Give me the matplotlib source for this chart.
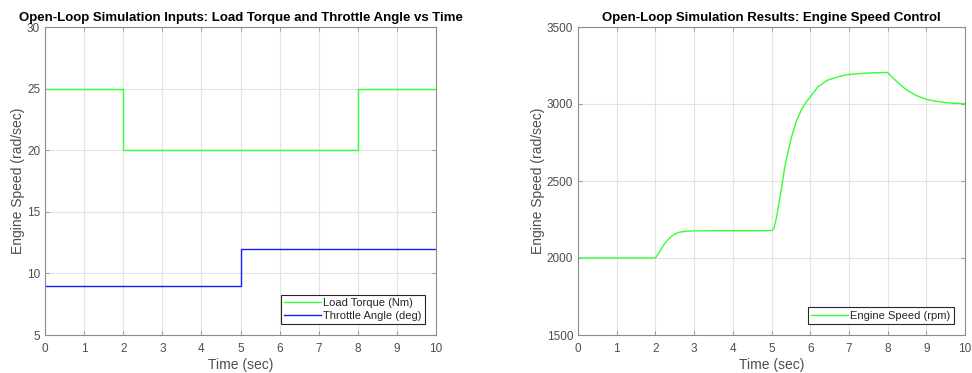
import matplotlib
matplotlib.use("Agg")
import matplotlib.pyplot as plt
import numpy as np

plt.rcParams['font.family'] = ['Liberation Sans', 'DejaVu Sans']

# Left chart data (step signals)
step_time = [0, 2, 2, 5, 5, 8, 8, 10]
load_torque = [25, 25, 20, 20, 20, 20, 25, 25]
throttle_angle = [9, 9, 9, 9, 12, 12, 12, 12]

# Right chart data (engine speed)
speed_time = [0, 0.5, 1, 1.5, 2.0, 2.1, 2.23, 2.36, 2.49, 2.62, 2.79, 3.0, 3.5, 4.0, 4.5, 5.0,
              5.06, 5.13, 5.19, 5.26, 5.34, 5.43, 5.51, 5.64, 5.77, 5.9, 6.0, 6.2, 6.45, 6.71,
              6.97, 7.22, 7.5, 7.75, 8.0, 8.1, 8.25, 8.4, 8.5, 8.75, 9.0, 9.25, 9.5, 9.75, 10.0]
engine_speed = [2000, 2000, 2000, 2000, 2000, 2036, 2090, 2129, 2155, 2167, 2174, 2176, 2177, 2177, 2177, 2178,
                2189, 2264, 2350, 2457, 2586, 2693, 2779, 2886, 2961, 3015, 3045, 3112, 3155, 3176,
                3191, 3197, 3201, 3203, 3205, 3178, 3143, 3110, 3090, 3054, 3030, 3018, 3009, 3004, 3002]

fig = plt.figure(figsize=(9.72, 3.73), dpi=100)
ax1 = fig.add_axes([45/972, 38/373, 391/972, 308/373])
ax2 = fig.add_axes([578/972, 38/373, 387/972, 308/373])

tick_col = '#4d4d4d'
spine_col = '#8c8c8c'

def style(ax):
    for s in ax.spines.values():
        s.set_color(spine_col)
        s.set_linewidth(0.8)
    ax.tick_params(direction='in', length=3, colors=spine_col, labelcolor=tick_col,
                   labelsize=8.5, top=True, right=True, width=0.6)
    ax.tick_params(axis='x', pad=6)
    ax.grid(True, color='#e3e3e3', linewidth=0.8)
    ax.set_axisbelow(True)
    ax.set_xlim(0, 10)
    ax.set_xticks(range(0, 11))
    ax.set_xlabel('Time (sec)', fontsize=10, color=tick_col, labelpad=2)
    ax.set_ylabel('Engine Speed (rad/sec)', fontsize=10, color=tick_col, labelpad=1)

def legend(ax):
    leg = ax.legend(loc='lower right', fontsize=8, fancybox=False, framealpha=1,
                    edgecolor='#262626', handlelength=3.3, borderpad=0.3, labelspacing=0.2,
                    handletextpad=0.2, borderaxespad=1.0)
    leg.get_frame().set_linewidth(0.8)
    for t in leg.get_texts():
        t.set_color('#262626')

ax1.plot(step_time, load_torque, color='#33ff33', linewidth=1.0, label='Load Torque (Nm)')
ax1.plot(step_time, throttle_angle, color='#1a1aff', linewidth=1.0, label='Throttle Angle (deg)')
style(ax1)
ax1.set_ylim(5, 30)
ax1.set_yticks(range(5, 31, 5))
ax1.set_title('Open-Loop Simulation Inputs: Load Torque and Throttle Angle vs Time',
              fontsize=9.5, fontweight='bold', pad=4)
legend(ax1)

ax2.plot(speed_time, engine_speed, color='#33ff33', linewidth=1.0, label='Engine Speed (rpm)')
style(ax2)
ax2.set_ylim(1500, 3500)
ax2.set_yticks(range(1500, 3501, 500))
ax2.set_title('Open-Loop Simulation Results: Engine Speed Control',
              fontsize=9.5, fontweight='bold', pad=4)
legend(ax2)

fig.savefig('out.png', dpi=100)
